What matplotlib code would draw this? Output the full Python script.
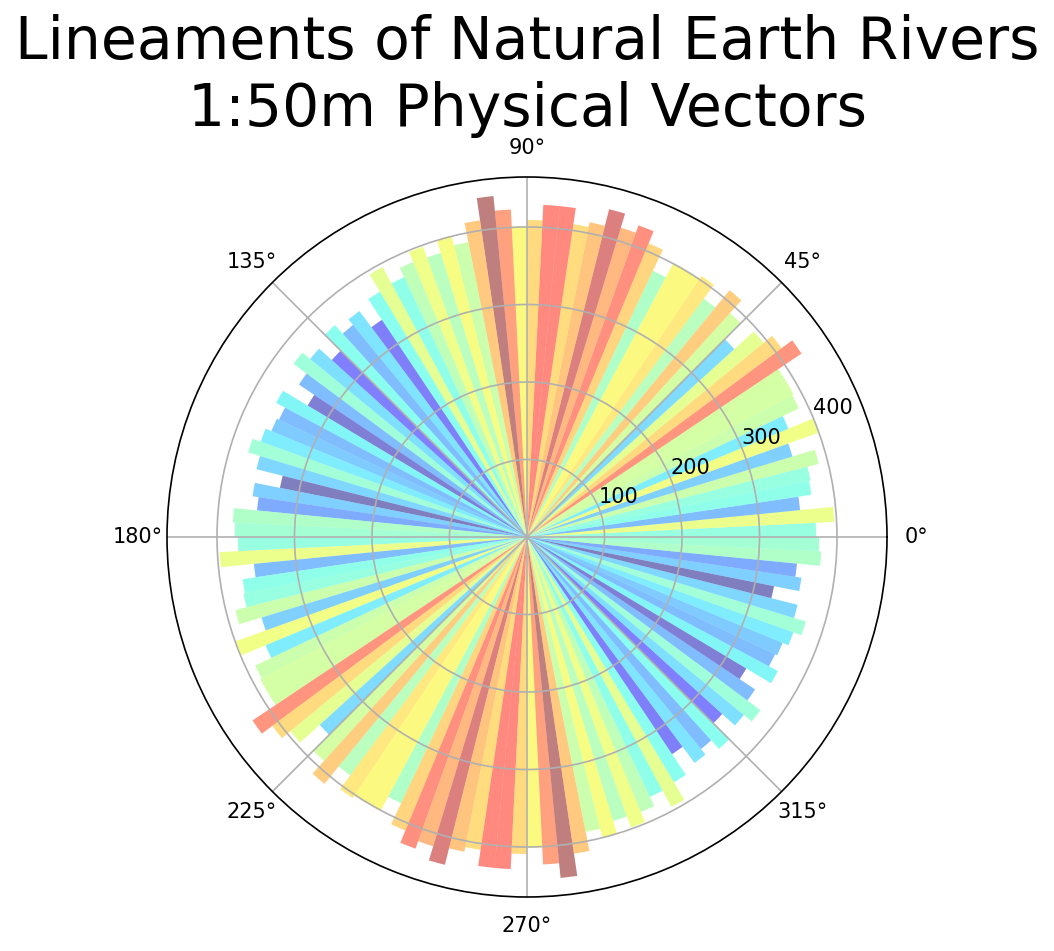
import numpy as np
import matplotlib
matplotlib.use("Agg")
import matplotlib.pyplot as plt

TITLE = "Lineaments of Natural Earth Rivers\n1:50m Physical Vectors"

# counts per bin for 0-180 degrees, the rose repeats them for 180-360
half_counts = [373, 397, 354, 371, 373, 388, 358, 399, 365, 388, 390, 390, 426, 409, 395, 361,
               390, 412, 383, 405, 401, 401, 380, 410, 427, 417, 436, 414, 408, 429, 429, 409,
               401, 423, 442, 413, 388, 400, 383, 398, 384, 371, 395, 369, 337, 363, 354, 369,
               340, 362, 375, 354, 330, 367, 354, 357, 365, 376, 360, 325, 358, 350, 380, 377]
r_ticks = [100, 200, 300, 400]

counts = np.array(half_counts + half_counts)
n_bins = len(counts)
width = 2 * np.pi / n_bins
theta = (np.arange(n_bins) + 0.5) * width
norm = (counts - counts.min()) / (counts.max() - counts.min())

W, H, DPI = 1054, 951, 150
fig = plt.figure(figsize=(W / DPI, H / DPI), dpi=DPI)
ax = fig.add_axes([167 / W, 1 - 897 / H, 720 / W, 720 / H], projection="polar")

ax.bar(theta, counts, width=width, color=plt.cm.jet(norm), alpha=0.5)
ax.set_rmax(464.5)
ax.set_yticks(r_ticks)
ax.grid(True)

fig.text(527 / W, 1 - 76 / H, TITLE, ha="center", va="center", fontsize=28, linespacing=1.2)

fig.savefig("out.png", dpi=DPI)
